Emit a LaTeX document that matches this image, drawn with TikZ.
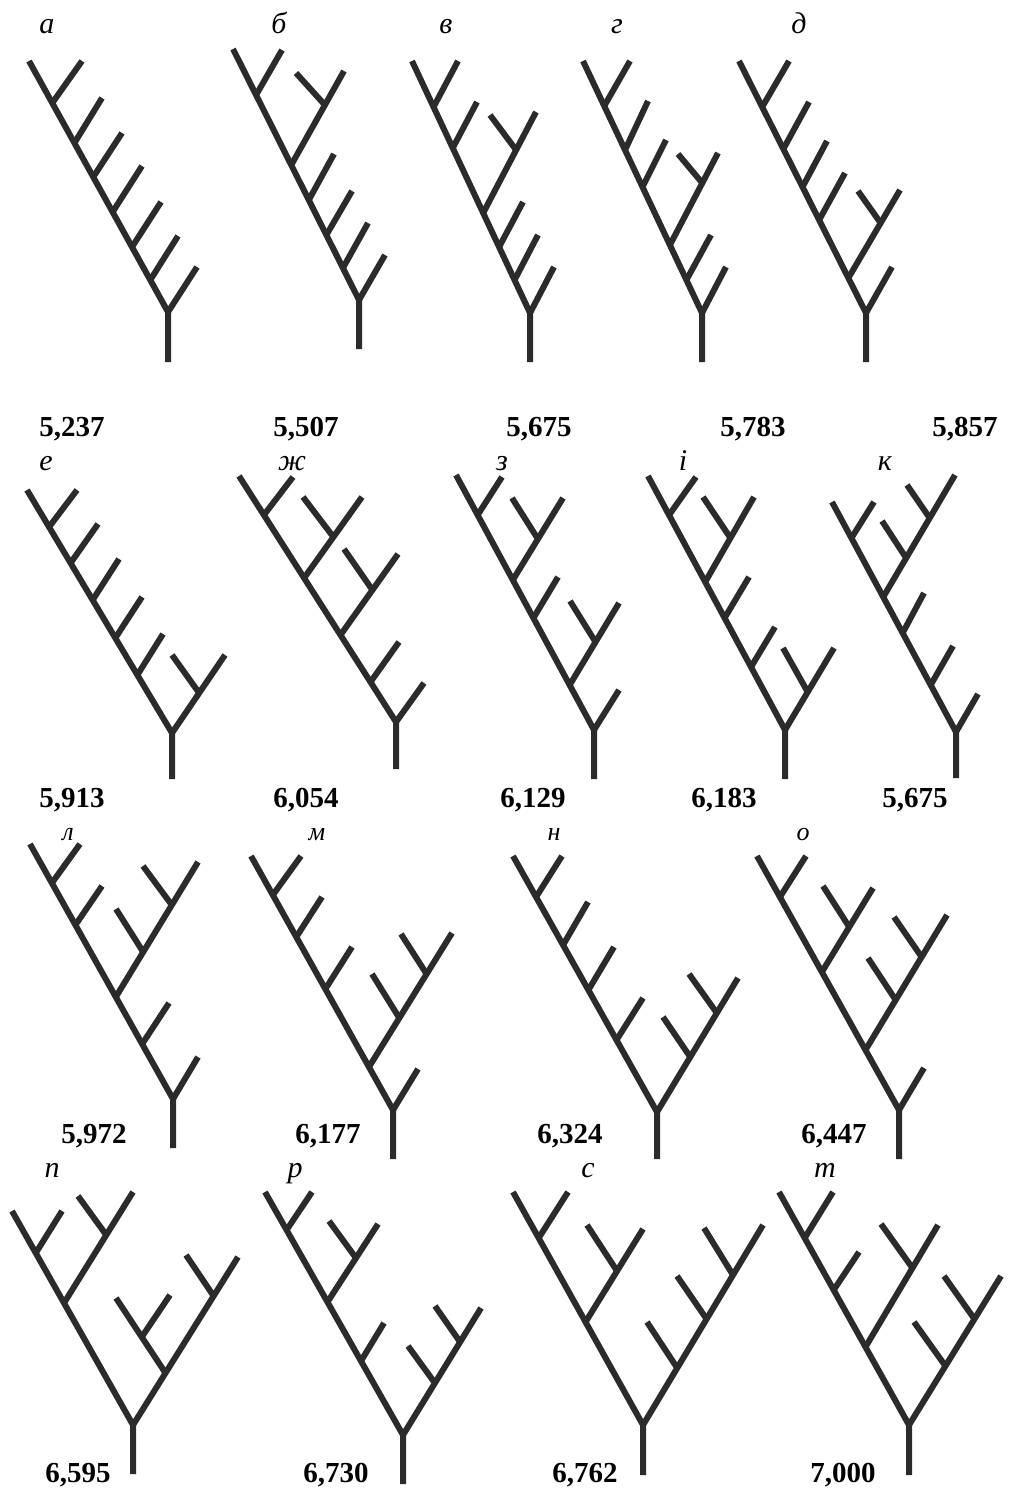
\documentclass[tikz,border=0pt]{standalone}
\usepackage{fontspec}
\setmainfont{Liberation Serif}
\usetikzlibrary{calc}
\definecolor{treegray}{RGB}{43,43,43}
\tikzset{
  tr/.style={draw=treegray, line width=3pt, line cap=butt, line join=miter},
  lab/.style={anchor=base, inner sep=0pt, font=\itshape\fontsize{15}{15}\selectfont},
  labs/.style={anchor=base, inner sep=0pt, font=\itshape\fontsize{13}{13}\selectfont},
  num/.style={anchor=base, inner sep=0pt, font=\bfseries\fontsize{14.5}{15}\selectfont}
}
% spine: bottom y, fork x, fork y, top x, top y
\newcommand\spn[5]{\def\FX{#2}\def\FY{#3}\def\TX{#4}\def\TY{#5}%
  \draw[tr] (#2,#1) -- (#2,#3) -- (#4,#5);}
% branch from spine at height #1 to end (#2,#3)
\newcommand\brn[3]{\pgfmathsetmacro\BX{\FX+(\TX-\FX)/(\FY-\TY)*(\FY-#1)}%
  \def\BY{#1}\def\EX{#2}\def\EY{#3}\draw[tr] (\BX,\BY) -- (#2,#3);}
% sub-branch from last branch at height #1 to end (#2,#3)
\newcommand\sbr[3]{\pgfmathsetmacro\SX{\BX+(\EX-\BX)/(\BY-\EY)*(\BY-#1)}%
  \draw[tr] (\SX,#1) -- (#2,#3);}
% generic: from line (#1,#2)-(#3,#4) at height #5 to (#6,#7)
\newcommand\onl[7]{\pgfmathsetmacro\JX{#1+(#3-#1)/(#2-#4)*(#2-#5)}%
  \draw[tr] (\JX,#5) -- (#6,#7);}
\begin{document}
\begin{tikzpicture}[x=0.5pt,y=-0.5pt]
\useasboundingbox (0,0) rectangle (1019,1488);
% ---------- row 1 ----------
% a
\spn{362}{168}{312}{29}{61}
\brn{103}{82}{61}\brn{143}{102}{98}\brn{177}{122}{133}\brn{212}{142}{166}
\brn{247}{161}{202}\brn{280}{178}{236}\brn{312}{197}{267}
% b
\spn{349}{359}{300}{233}{49}
\brn{95}{282}{50}\brn{165}{344}{71}\sbr{105}{296}{73}\brn{200}{334}{154}
\brn{235}{352}{191}\brn{268}{368}{223}\brn{300}{385}{255}
% v
\spn{362}{530}{313}{412}{61}
\brn{107}{458}{61}\brn{148}{477}{102}\brn{213}{536}{112}\sbr{150}{490}{115}
\brn{247}{523}{202}\brn{280}{538}{235}\brn{313}{554}{267}
% g
\spn{362}{702}{313}{583}{61}
\brn{106}{630}{61}\brn{150}{648}{101}\brn{187}{666}{140}\brn{245}{718}{153}
\sbr{183}{678}{154}\brn{280}{711}{235}\brn{313}{726}{267}
% d
\spn{362}{866}{313}{739}{61}
\brn{107}{789}{61}\brn{149}{809}{102}\brn{187}{827}{141}\brn{220}{845}{173}
\brn{278}{900}{190}\sbr{223}{858}{191}\brn{313}{892}{267}
% ---------- row 2 ----------
% e
\spn{779}{172}{733}{27}{490}
\brn{527}{77}{490}\brn{563}{98}{524}\brn{600}{119}{559}\brn{638}{142}{597}
\brn{675}{163}{634}\brn{733}{225}{655}\sbr{693}{172}{655}
% zh
\spn{769}{396}{722}{239}{476}
\brn{515}{293}{477}\brn{578}{362}{497}\sbr{537}{303}{497}
\brn{635}{398}{554}\sbr{590}{344}{549}\brn{682}{399}{642}\brn{722}{424}{683}
% z
\spn{779}{594}{730}{456}{475}
\brn{515}{502}{477}\brn{580}{563}{498}\sbr{539}{512}{498}\brn{618}{558}{577}
\brn{685}{619}{603}\sbr{642}{570}{601}\brn{730}{619}{690}
% i
\spn{779}{785}{730}{648}{476}
\brn{515}{696}{477}\brn{582}{754}{497}\sbr{538}{703}{497}\brn{618}{749}{577}
\brn{667}{775}{627}\brn{730}{834}{648}\sbr{692}{783}{648}
% k
\spn{778}{956}{732}{832}{502}
\brn{538}{874}{502}\brn{597}{955}{475}\sbr{558}{882}{521}\sbr{518}{907}{485}
\brn{633}{924}{593}\brn{685}{953}{646}\brn{732}{978}{694}
% ---------- row 3 ----------
% l
\spn{1148}{173}{1099}{30}{844}
\brn{883}{80}{844}\brn{925}{102}{886}\brn{997}{198}{862}\sbr{952}{116}{909}
\sbr{905}{143}{866}\brn{1044}{169}{1003}\brn{1099}{198}{1057}
% m
\spn{1159}{393}{1110}{251}{856}
\brn{895}{301}{856}\brn{937}{322}{897}\brn{989}{352}{947}\brn{1067}{452}{933}
\sbr{1018}{372}{974}\sbr{974}{401}{934}\brn{1110}{418}{1069}
% n
\spn{1159}{657}{1112}{513}{856}
\brn{897}{562}{856}\brn{945}{588}{902}\brn{990}{614}{947}\brn{1040}{643}{998}
\brn{1112}{738}{978}\sbr{1057}{663}{1017}\sbr{1013}{689}{974}
% o
\spn{1159}{899}{1110}{757}{856}
\brn{897}{806}{856}\brn{972}{873}{888}\sbr{927}{823}{886}
\brn{1050}{947}{915}\sbr{1000}{868}{958}\sbr{957}{894}{917}\brn{1110}{924}{1068}
% ---------- row 4 ----------
% p
\spn{1474}{133}{1425}{12}{1211}
\brn{1253}{62}{1211}\brn{1303}{133}{1192}\sbr{1235}{78}{1196}
\brn{1425}{238}{1257}\sbr{1296}{186}{1255}\sbr{1373}{116}{1298}
\onl{165.5}{1373}{116}{1298}{1337}{170}{1295}
% r
\spn{1484}{403}{1435}{265}{1192}
\brn{1230}{312}{1192}\brn{1302}{378}{1224}\sbr{1258}{329}{1221}\brn{1361}{384}{1323}
\brn{1435}{481}{1308}\sbr{1383}{408}{1346}\sbr{1342}{435}{1306}
% s
\spn{1475}{643}{1425}{513}{1192}
\brn{1238}{568}{1192}\brn{1322}{643}{1229}\sbr{1271}{587}{1225}
\brn{1425}{763}{1225}\sbr{1368}{647}{1322}\sbr{1319}{677}{1276}\sbr{1275}{704}{1228}
% t
\spn{1475}{909}{1425}{779}{1192}
\brn{1238}{833}{1192}\brn{1290}{859}{1252}\brn{1347}{938}{1225}\sbr{1268}{881}{1224}
\brn{1425}{1001}{1276}\sbr{1366}{914}{1322}\sbr{1319}{944}{1276}
% ---------- labels ----------
\node[lab] (la) at (47,33) {а};
\node[lab] (lb) at (279,33) {б};
\node[lab] (lv) at (446,33) {в};
\node[lab] (lg) at (617,33) {г};
\node[lab] (ld) at (799,33) {д};
\node[lab] (le) at (46,470) {е};
\node[lab] (lzh) at (292,470) {ж};
\node[lab] (lz) at (502,470) {з};
\node[lab] (li) at (683,470) {і};
\node[lab] (lk) at (885,470) {к};
\node[labs] (ll) at (68,840) {л};
\node[labs] (lm) at (317,840) {м};
\node[labs] (ln) at (554,840) {н};
\node[labs] (lo) at (803,840) {о};
\node[lab] (lp) at (52,1177) {п};
\node[lab] (lr) at (295,1177) {р};
\node[lab] (ls) at (588,1177) {с};
\node[lab] (lt) at (825,1177) {т};
% ---------- numbers ----------
\node[num] (n1) at (72,436) {5,237};
\node[num] (n2) at (306,436) {5,507};
\node[num] (n3) at (539,436) {5,675};
\node[num] (n4) at (753,436) {5,783};
\node[num] (n5) at (965,436) {5,857};
\node[num] (n6) at (72,807) {5,913};
\node[num] (n7) at (306,807) {6,054};
\node[num] (n8) at (533,807) {6,129};
\node[num] (n9) at (724,807) {6,183};
\node[num] (n10) at (915,807) {5,675};
\node[num] (n11) at (94,1143) {5,972};
\node[num] (n12) at (328,1143) {6,177};
\node[num] (n13) at (570,1143) {6,324};
\node[num] (n14) at (834,1143) {6,447};
\node[num] (n15) at (78,1482) {6,595};
\node[num] (n16) at (336,1482) {6,730};
\node[num] (n17) at (585,1482) {6,762};
\node[num] (n18) at (843,1482) {7,000};
\end{tikzpicture}
\end{document}
